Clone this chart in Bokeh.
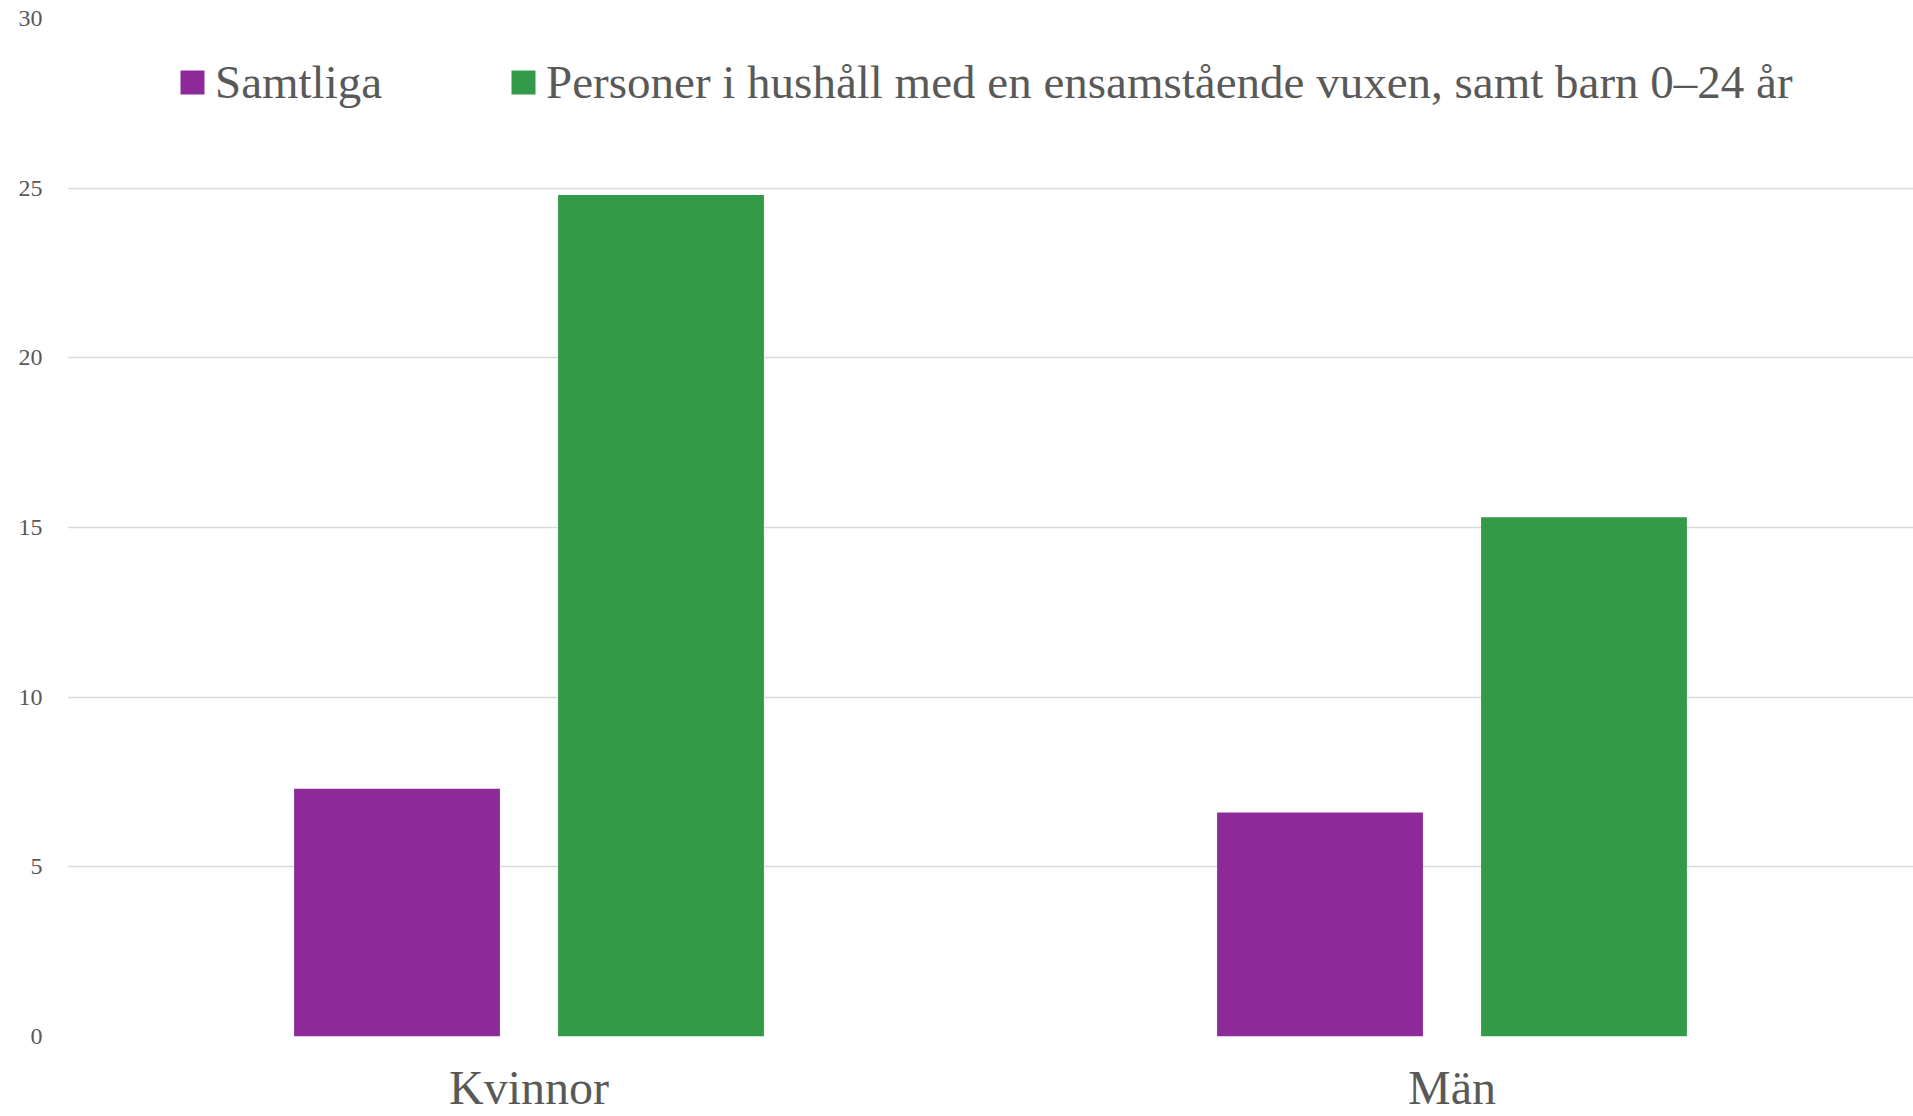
from bokeh.plotting import figure
from bokeh.models import ColumnDataSource, FactorRange, Legend, LegendItem, FixedTicker
from bokeh.transform import dodge
from bokeh.embed import file_html
from bokeh.resources import INLINE

categories = ["Kvinnor", "Män"]
samtliga = [7.3, 6.6]
ensamstaende = [24.8, 15.3]
y_ticks = [0, 5, 10, 15, 20, 25, 30]
series_labels = ["Samtliga", "Personer i hushåll med en ensamstående vuxen, samt barn 0–24 år"]

PURPLE = "#8E299A"
GREEN = "#339A47"
TEXT = "#595959"
FONT = "Liberation Serif"

src = ColumnDataSource(dict(cat=categories, s=samtliga, e=ensamstaende))

p = figure(
    x_range=FactorRange(factors=categories, range_padding=0),
    y_range=(0, 30),
    width=1913, height=1116,
    output_backend="svg", toolbar_location=None,
    min_border_left=67, min_border_right=0, min_border_top=18, min_border_bottom=0,
)
p.outline_line_color = None
p.background_fill_color = "white"

r1 = p.vbar(x=dodge("cat", -0.143, range=p.x_range), top="s", width=0.223, source=src,
            fill_color=PURPLE, line_color=None)
r2 = p.vbar(x=dodge("cat", 0.143, range=p.x_range), top="e", width=0.223, source=src,
            fill_color=GREEN, line_color=None)

p.xgrid.grid_line_color = None
p.ygrid.grid_line_color = "#D9D9D9"
p.ygrid.grid_line_width = 1.5
p.yaxis.ticker = FixedTicker(ticks=y_ticks)

for ax in (p.xaxis[0], p.yaxis[0]):
    ax.axis_line_color = None
    ax.major_tick_line_color = None
    ax.minor_tick_line_color = None
    ax.major_tick_out = 0
    ax.major_tick_in = 0
    ax.minor_tick_out = 0
    ax.minor_tick_in = 0
    ax.major_label_text_color = TEXT
    ax.major_label_text_font = FONT

p.yaxis.major_label_text_font_size = "24px"
p.yaxis.major_label_standoff = 25
p.xaxis.major_label_text_font_size = "48px"
p.xaxis.major_label_standoff = 24

legend = Legend(
    items=[LegendItem(label=series_labels[0], renderers=[r1]),
           LegendItem(label=series_labels[1], renderers=[r2])],
    orientation="horizontal",
    location=(110, 927),
    label_text_color=TEXT, label_text_font=FONT, label_text_font_size="47px",
    glyph_width=30, glyph_height=30, label_standoff=8, spacing=126,
    padding=0, margin=0, border_line_color=None, background_fill_alpha=0,
)
p.add_layout(legend)

open("out.html", "w").write(file_html(p, INLINE))
